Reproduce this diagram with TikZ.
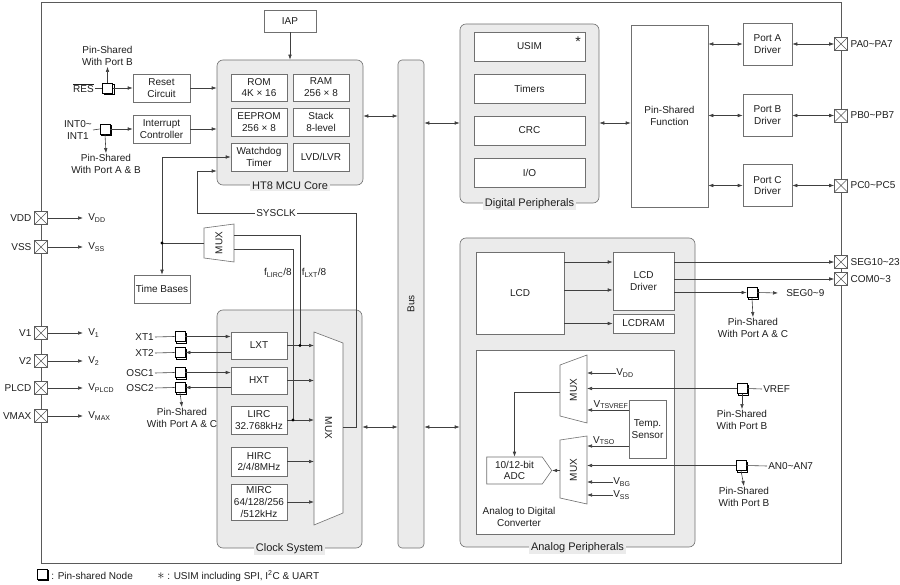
\documentclass[tikz,border=0pt]{standalone}
\usepackage{fontspec}
\setmainfont{Liberation Sans}
\usetikzlibrary{arrows.meta,shadows,shapes.symbols}
\definecolor{panelgray}{HTML}{EBEBEB}
\definecolor{boxgray}{HTML}{707070}
\definecolor{linegray}{HTML}{404040}
\definecolor{framegray}{HTML}{5A5A5A}
\definecolor{txt}{HTML}{1E1E1E}

\begin{document}
\begin{tikzpicture}[x=1pt,y=-1pt,line width=0.6pt,text=txt,
	font=\fontsize{10}{11.8}\selectfont,
	>={Latex[length=5pt,width=3.6pt]},
	blk/.style={draw=boxgray,fill=white,align=center,inner sep=1pt},
	panel/.style={draw=boxgray,fill=panelgray,rounded corners=6pt},
	ptitle/.style={fill=panelgray,inner sep=2pt,font=\fontsize{11}{12}\selectfont},
	wire/.style={draw=linegray},
	xpin/.style={draw=framegray,fill=white,minimum size=13pt,inner sep=0pt,
		path picture={\draw[framegray] (path picture bounding box.north west) -- (path picture bounding box.south east)
			(path picture bounding box.north east) -- (path picture bounding box.south west);}},
	spin/.style={draw=black,fill=white,line width=0.8pt,minimum size=10pt,inner sep=0pt,
		copy shadow={shadow xshift=1.8pt,shadow yshift=-1.8pt}},
	mux/.style={draw=boxgray,fill=white},
	lbl/.style={inner sep=1pt,align=center}]
	\useasboundingbox (0,0) rectangle (900,585);
	\draw[framegray] (41,2) rectangle (841,563);

	\node[xpin] (vddp) at (41,218) {};
	\node[anchor=east,inner sep=2.5pt] (vddn) at (vddp.west) {VDD};
	\node[anchor=west,inner sep=0pt] (vdd) at (88,218) {V\textsubscript{DD}};
	\draw[wire,->] (vddp.east) -- ([xshift=-5pt]vdd.west);
	\node[xpin] (vssp) at (41,247) {};
	\node[anchor=east,inner sep=2.5pt] (vssn) at (vssp.west) {VSS};
	\node[anchor=west,inner sep=0pt] (vss) at (88,247) {V\textsubscript{SS}};
	\draw[wire,->] (vssp.east) -- ([xshift=-5pt]vss.west);
	\node[xpin] (v1p) at (41,333) {};
	\node[anchor=east,inner sep=2.5pt] (v1n) at (v1p.west) {V1};
	\node[anchor=west,inner sep=0pt] (v1) at (88,333) {V\textsubscript{1}};
	\draw[wire,->] (v1p.east) -- ([xshift=-5pt]v1.west);
	\node[xpin] (v2p) at (41,361) {};
	\node[anchor=east,inner sep=2.5pt] (v2n) at (v2p.west) {V2};
	\node[anchor=west,inner sep=0pt] (v2) at (88,361) {V\textsubscript{2}};
	\draw[wire,->] (v2p.east) -- ([xshift=-5pt]v2.west);
	\node[xpin] (plcdp) at (41,388) {};
	\node[anchor=east,inner sep=2.5pt] (plcdn) at (plcdp.west) {PLCD};
	\node[anchor=west,inner sep=0pt] (plcd) at (88,388) {V\textsubscript{PLCD}};
	\draw[wire,->] (plcdp.east) -- ([xshift=-5pt]plcd.west);
	\node[xpin] (vmaxp) at (41,416) {};
	\node[anchor=east,inner sep=2.5pt] (vmaxn) at (vmaxp.west) {VMAX};
	\node[anchor=west,inner sep=0pt] (vmax) at (88,416) {V\textsubscript{MAX}};
	\draw[wire,->] (vmaxp.east) -- ([xshift=-5pt]vmax.west);

	\node[blk,minimum width=52pt,minimum height=22pt] (iap) at (290,21) {IAP};
	\node[panel,minimum width=146pt,minimum height=125pt] (core) at (290,122.5) {};
	\node[ptitle] (coret) at (core.south) {HT8 MCU Core};
	\node[blk,minimum width=56pt,minimum height=27pt] (rom) at (259,87.5) {ROM\\4K × 16};
	\node[blk,minimum width=56pt,minimum height=27pt] (ram) at (321,87.5) {RAM\\256 × 8};
	\node[blk,minimum width=56pt,minimum height=28pt] (eep) at (259,122) {EEPROM\\256 × 8};
	\node[blk,minimum width=56pt,minimum height=28pt] (stk) at (321,122) {Stack\\8-level};
	\node[blk,minimum width=56pt,minimum height=28pt] (wdt) at (259,157) {Watchdog\\Timer};
	\node[blk,minimum width=56pt,minimum height=28pt] (lvd) at (321,157) {LVD/LVR};
	\draw[wire,->] (iap.south) -- (core.north);

	\node[spin] (resp) at (107.5,88) {};
	\node[anchor=east,lbl] (res) at (95,88) {$\overline{\hbox{RES}}$};
	\node[lbl] (psb1) at (107.5,56) {Pin-Shared\\With Port B};
	\node[blk,minimum width=57pt,minimum height=28pt] (rst) at (161.5,88) {Reset\\Circuit};
	\draw[wire] (res.east) -- (resp.west);
	\draw[wire,->] (resp.north) -- (psb1.south);
	\draw[wire,->] (resp.east) -- (rst.west);
	\draw[wire,->] (rst.east) -- (rst.east -| core.west);
	\node[spin] (intp) at (105,129) {};
	\node[anchor=east,lbl] (intl) at (93,130) {INT0\textasciitilde\\INT1};
	\node[lbl] (psab1) at (106,164) {Pin-Shared\\With Port A \& B};
	\node[blk,minimum width=57pt,minimum height=28pt] (ic) at (161.5,129) {Interrupt\\Controller};
	\draw[wire] (intl.east) -- (intp.west);
	\draw[wire,->] (intp.south) -- (psab1.north);
	\draw[wire,->] (intp.east) -- (ic.west);
	\draw[wire,->] (ic.east) -- (ic.east -| core.west);

	\node[blk,minimum width=56pt,minimum height=28pt] (tb) at (162,289) {Time Bases};
	\draw[mux] (204,228) -- (234,224) -- (234,262) -- (204,258) -- cycle;
	\node[rotate=90,lbl] (smux) at (219,243) {MUX};
	\coordinate (smuxout) at (204,243);
	\coordinate (smuxin1) at (234,235);
	\coordinate (smuxin2) at (234,249);
	\coordinate (tbj) at (162,243);
	\draw[wire] (smuxout) -- (tbj);
	\draw[wire,->] (tbj) |- (wdt.west);
	\draw[wire,->] (tbj) -- (tb.north);
	\fill (tbj) circle (1.6pt);

	\node[panel,minimum width=145pt,minimum height=238pt] (clk) at (289.5,429) {};
	\node[ptitle] (clkt) at (clk.south) {Clock System};
	\node[blk,minimum width=56pt,minimum height=27pt] (lxt) at (259,345.5) {LXT};
	\node[blk,minimum width=56pt,minimum height=27pt] (hxt) at (259,380.5) {HXT};
	\node[blk,minimum width=56pt,minimum height=28pt] (lirc) at (259,420) {LIRC\\32.768kHz};
	\node[blk,minimum width=56pt,minimum height=29pt] (hirc) at (259,461.5) {HIRC\\2/4/8MHz};
	\node[blk,minimum width=56pt,minimum height=36pt] (mirc) at (259,502) {MIRC\\64/128/256\\/512kHz};
	\draw[mux] (314,332) -- (343,343) -- (343,513) -- (314,525) -- cycle;
	\node[rotate=-90,lbl] (cmux) at (328.5,428) {MUX};
	\coordinate (cmuxin) at (314,0);
	\coordinate (cmuxout) at (343,427);
	\draw[wire,->] (lxt.east) -- (cmuxin |- lxt);
	\draw[wire,->] (hxt.east) -- (cmuxin |- hxt);
	\draw[wire,->] (lirc.east) -- (cmuxin |- lirc);
	\draw[wire,->] (hirc.east) -- (cmuxin |- hirc);
	\draw[wire,->] (mirc.east) -- (cmuxin |- mirc);
	\coordinate (lxtj) at (300,345.5);
	\coordinate (lircj) at (293,420);
	\draw[wire] (lxtj) |- (smuxin1);
	\draw[wire] (lircj) |- (smuxin2);
	\fill (lxtj) circle (1.6pt);
	\fill (lircj) circle (1.6pt);
	\node[lbl] (flirc) at (278,273) {f\textsubscript{LIRC}/8};
	\node[lbl] (flxt) at (314,273) {f\textsubscript{LXT}/8};
	\coordinate (syc) at (197,171);
	\draw[wire,->] (cmuxout) -| (356,213) -| (syc) -- (syc -| core.west);
	\node[fill=white,inner sep=1.5pt] (sysclk) at (276,213) {SYSCLK};

	\node[spin] (xt1p) at (180,336.5) {};
	\node[anchor=east,lbl] (xt1) at (155,337) {XT1};
	\draw[wire] (xt1.east) -- (xt1p.west);
	\draw[wire,->] (xt1p.east) -- (xt1p.east -| lxt.west);
	\node[spin] (xt2p) at (180,352.5) {};
	\node[anchor=east,lbl] (xt2) at (155,353) {XT2};
	\draw[wire] (xt2.east) -- (xt2p.west);
	\draw[wire,->] (lxt.west |- xt2p) -- (xt2p.east);
	\node[spin] (osc1p) at (180,372.5) {};
	\node[anchor=east,lbl] (osc1) at (155,373) {OSC1};
	\draw[wire] (osc1.east) -- (osc1p.west);
	\draw[wire,->] (osc1p.east) -- (osc1p.east -| hxt.west);
	\node[spin] (osc2p) at (180,387.5) {};
	\node[anchor=east,lbl] (osc2) at (155,388) {OSC2};
	\draw[wire] (osc2.east) -- (osc2p.west);
	\draw[wire,->] (hxt.west |- osc2p) -- (osc2p.east);
	\node[lbl] (psac1) at (182,418) {Pin-Shared\\With Port A \& C};
	\draw[wire,->] (osc2p.south) -- (psac1.north);

	\node[panel,minimum width=26pt,minimum height=488pt,rounded corners=4pt] (bus) at (411,304) {};
	\node[rotate=90,lbl] (busl) at (bus) {Bus};
	\coordinate (cb) at (0,116);
	\coordinate (db) at (0,123);
	\draw[wire,<->] (core.east |- cb) -- (bus.west |- cb);
	\draw[wire,<->] (clk.east |- cmuxout) -- (bus.west |- cmuxout);

	\node[panel,minimum width=139pt,minimum height=179pt] (dig) at (529.5,113.5) {};
	\node[ptitle] (digt) at (dig.south) {Digital Peripherals};
	\node[blk,minimum width=111pt,minimum height=29pt] (usim) at (529.5,46.5) {USIM};
	\node[lbl,font=\fontsize{14}{14}\selectfont] (ast) at (578,42) {*};
	\node[blk,minimum width=111pt,minimum height=29pt] (tmr) at (529.5,88.5) {Timers};
	\node[blk,minimum width=111pt,minimum height=29pt] (crc) at (529.5,130.5) {CRC};
	\node[blk,minimum width=111pt,minimum height=29pt] (io) at (529.5,172.5) {I/O};
	\node[blk,minimum width=77pt,minimum height=182pt] (psf) at (669.5,116) {Pin-Shared\\Function};
	\draw[wire,<->] (bus.east |- db) -- (dig.west |- db);
	\draw[wire,<->] (dig.east |- db) -- (psf.west |- db);

	\node[blk,minimum width=49pt,minimum height=42pt] (pa) at (767.5,44) {Port A\\Driver};
	\node[blk,minimum width=49pt,minimum height=42pt] (pb) at (767.5,115.5) {Port B\\Driver};
	\node[blk,minimum width=49pt,minimum height=42pt] (pc) at (767.5,185.5) {Port C\\Driver};
	\node[xpin] (pap) at (841,44) {};
	\node[anchor=west,inner sep=2.5pt] (pal) at (pap.east) {PA0\textasciitilde PA7};
	\node[xpin] (pbp) at (841,115.5) {};
	\node[anchor=west,inner sep=2.5pt] (pbl) at (pbp.east) {PB0\textasciitilde PB7};
	\node[xpin] (pcp) at (841,185.5) {};
	\node[anchor=west,inner sep=2.5pt] (pcl) at (pcp.east) {PC0\textasciitilde PC5};
	\draw[wire,<->] (psf.east |- pa) -- (pa.west);
	\draw[wire,<->] (pa.east) -- (pap.west);
	\draw[wire,<->] (psf.east |- pb) -- (pb.west);
	\draw[wire,<->] (pb.east) -- (pbp.west);
	\draw[wire,<->] (psf.east |- pc) -- (pc.west);
	\draw[wire,<->] (pc.east) -- (pcp.west);

	\node[panel,minimum width=235pt,minimum height=309pt] (ana) at (577.5,392.5) {};
	\node[ptitle] (anat) at (ana.south) {Analog Peripherals};
	\draw[wire,<->] (bus.east |- cmuxout) -- (ana.west |- cmuxout);
	\node[blk,minimum width=88pt,minimum height=82pt] (lcd) at (520,293) {LCD};
	\node[blk,minimum width=61pt,minimum height=58pt] (lcdd) at (643.5,281) {LCD\\Driver};
	\node[blk,minimum width=61pt,minimum height=19pt] (lcdram) at (643.5,323.5) {LCDRAM};
	\node[xpin] (segp) at (841,262) {};
	\node[anchor=west,inner sep=2.5pt] (segl) at (segp.east) {SEG10\textasciitilde 23};
	\node[xpin] (comp) at (841,279) {};
	\node[anchor=west,inner sep=2.5pt] (coml) at (comp.east) {COM0\textasciitilde 3};
	\coordinate (l2) at (564,290);
	\draw[wire,->] (lcd.east |- segp) -- (lcdd.west |- segp);
	\draw[wire,->] (l2) -- (l2 -| lcdd.west);
	\draw[wire,->] (lcd.east |- lcdram) -- (lcdram.west);
	\draw[wire,->] (lcdd.east |- segp) -- (segp.west);
	\draw[wire,->] (lcdd.east |- comp) -- (comp.west);
	\node[spin] (seg9p) at (752,292.5) {};
	\node[anchor=west,inner sep=0pt] (seg9l) at (786,293) {SEG0\textasciitilde 9};
	\node[lbl] (psac2) at (753,328) {Pin-Shared\\With Port A \& C};
	\draw[wire,->] (lcdd.east |- seg9p) -- (seg9p.west);
	\draw[wire,->] (seg9p.east) -- ([xshift=-8pt]seg9l.west);
	\draw[wire,->] (seg9p.south) -- (psac2.north);

	\node[blk,minimum width=198pt,minimum height=184pt] (adcbox) at (575,442) {};
	\node[lbl] (adct) at (519,517) {Analog to Digital\\Converter};
	\node[draw=boxgray,fill=white,shape=signal,signal to=east,signal pointer angle=110,
		minimum width=65pt,minimum height=27pt,inner sep=1pt,align=center] (adc) at (514.5,470.5) {10/12-bit\\ADC};
	\node[blk,minimum width=37pt,minimum height=58pt] (ts) at (647.5,429) {Temp.\\Sensor};
	\draw[mux] (560,365) -- (587,355) -- (587,423) -- (560,416) -- cycle;
	\node[rotate=90,lbl] (umux) at (573.5,390) {MUX};
	\draw[mux] (560,440) -- (587,436) -- (587,504) -- (560,498) -- cycle;
	\node[rotate=90,lbl] (lmux) at (573.5,470) {MUX};
	\coordinate (muxr) at (587,0);
	\coordinate (umuxout) at (560,392);
	\coordinate (lmuxout) at (560,470.5);
	\draw[wire,->] (umuxout) -| (adc.north);
	\draw[wire,->] (lmuxout) -- (adc.east);
	\node[anchor=west,inner sep=0pt] (vddi) at (616,373) {V\textsubscript{DD}};
	\draw[wire,->] (vddi.west) -- (muxr |- vddi.west);
	\node[anchor=south,inner sep=1pt] (tsvref) at (611,410) {V\textsubscript{TSVREF}};
	\draw[wire,->] (ts.west |- tsvref.south) -- (muxr |- tsvref.south);
	\node[anchor=south,inner sep=1pt] (vtso) at (604,446) {V\textsubscript{TSO}};
	\draw[wire,->] (ts.west |- vtso.south) -- (muxr |- vtso.south);
	\node[anchor=west,inner sep=0pt] (vbg) at (613,482) {V\textsubscript{BG}};
	\draw[wire,->] (vbg.west) -- (muxr |- vbg.west);
	\node[anchor=west,inner sep=0pt] (vssi) at (613,495) {V\textsubscript{SS}};
	\draw[wire,->] (vssi.west) -- (muxr |- vssi.west);

	\node[spin] (vrefp) at (742,388.5) {};
	\node[anchor=west,lbl] (vref) at (762,389) {VREF};
	\node[lbl] (psb2) at (742,420) {Pin-Shared\\With Port B};
	\draw[wire] (vrefp.east) -- (vref.west);
	\draw[wire,->] (vrefp.west) -- (muxr |- vrefp);
	\draw[wire,->] (vrefp.south) -- (psb2.north);
	\node[spin] (anp) at (741,465.5) {};
	\node[anchor=west,lbl] (anl) at (767,466) {AN0\textasciitilde AN7};
	\node[lbl] (psb3) at (744,497) {Pin-Shared\\With Port B};
	\draw[wire] (anp.east) -- (anl.west);
	\draw[wire,->] (anp.west) -- (muxr |- anp);
	\draw[wire,->] (anp.south) -- (psb3.north);

	\node[spin] (legp) at (42,574) {};
	\node[anchor=west,lbl] (legt) at (50,576) {: Pin-shared Node};
	\node[anchor=west,lbl] (legu) at (156,576) {{\Large$\ast$} : USIM including SPI, I\textsuperscript{2}C \& UART};
\end{tikzpicture}
\end{document}
